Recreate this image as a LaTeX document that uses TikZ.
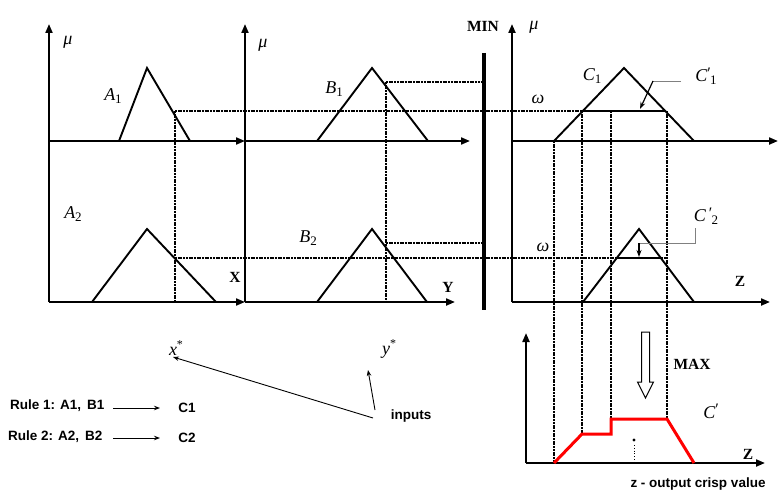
\documentclass[tikz,border=0pt]{standalone}
\usepackage{fontspec}
\setmainfont{Liberation Serif}
\setsansfont{Liberation Sans}
\usetikzlibrary{arrows.meta}
\newcommand\sbx[1]{\raisebox{-0.3ex}{\fontsize{13}{14}\selectfont\upshape #1}}
\newcommand\prm{\raisebox{0.45ex}{\fontsize{16}{17}\selectfont\upshape ′}}
\newcommand\spx[1]{\raisebox{0.75ex}{\fontsize{12}{13}\selectfont\upshape #1}}
\begin{document}
\begin{tikzpicture}[x=1pt,y=-1pt,
  axis/.style={line width=2pt,-{Triangle[length=9pt,width=7pt]}},
  mf/.style={line width=1.9pt,line join=miter},
  guide/.style={line width=1.1pt,dash pattern=on 2pt off 0.7pt},
  thin arrow/.style={line width=0.9pt,-{Stealth[length=6pt,width=4.5pt]}},
  leader/.style={line width=1pt,draw=gray},
  it/.style={font=\fontsize{18}{20}\selectfont\itshape,inner sep=0pt},
  bf/.style={font=\fontsize{15.5}{17}\selectfont\bfseries,inner sep=0pt},
  sf/.style={font=\fontsize{13.5}{16}\selectfont\sffamily\bfseries,inner sep=0pt},
  red curve/.style={line width=3pt,draw=red,line join=miter}]
\useasboundingbox (0,0) rectangle (781,495);

% guides (dotted)
\draw[guide] (175,111) -- (582,111);
\draw[guide] (175,258) -- (667,258);
\draw[guide] (386,82) -- (482,82);
\draw[guide] (386,243) -- (482,243);
\draw[guide] (175,111) -- (175,302);
\draw[guide] (386,82) -- (386,302);
\draw[guide] (554,141) -- (554,463);
\draw[guide] (582,111) -- (582,434);
\draw[guide] (611,111) -- (611,419);
\draw[guide] (667,111) -- (667,419);

% axes
\draw[axis] (49,302) -- (49,24);
\draw[axis] (49,141) -- (245,141);
\draw[axis] (49,302) -- (245,302);
\draw[axis] (245,302) -- (245,24);
\draw[axis] (245,141) -- (470,141);
\draw[axis] (245,302) -- (455,302);
\draw[axis] (512,302) -- (512,24);
\draw[axis] (512,141) -- (778,141);
\draw[axis] (512,302) -- (770,302);
\draw[axis] (526,463) -- (526,333);
\draw[axis] (526,463) -- (765,463);

% membership functions
\draw[mf] (119,141) -- (147,68) -- (190,141);
\draw[mf] (317,141) -- (372,68) -- (428,141);
\draw[mf] (554,141) -- (624,68) -- (694,141);
\draw[mf] (92,302) -- (147,229) -- (216,302);
\draw[mf] (317,302) -- (372,229) -- (427,302);
\draw[mf] (583,302) -- (639,229) -- (694,302);

% clipped tops
\draw[line width=2.8pt] (582,111) -- (666,111);
\draw[line width=2pt] (617,258) -- (661,258);

% MIN bar
\draw[line width=4pt] (484,53) -- (484,310);

% leaders
\draw[leader] (681,81) -- (653,81);
\draw[line width=1.2pt,-{Stealth[length=7pt,width=5pt]}] (653,81) -- (640,109);
\draw[leader] (695,228) -- (695,243) -- (639,243);
\draw[line width=1.2pt,-{Stealth[length=7pt,width=5pt]}] (639,243) -- (639,257);

% result
\draw[red curve] (554,463) -- (582,434) -- (611,434) -- (611,419) -- (667,419) -- (694,463);
\fill (634,440) circle (1.6pt);
\draw[line width=0.8pt,dotted] (634,445) -- (634,462);

% hollow MAX arrow
\draw[line width=1pt,fill=white] (641.5,332) -- (649.5,332) -- (649.5,382) -- (653.5,382) -- (645.5,398) -- (637.5,382) -- (641.5,382) -- cycle;

% labels
\node[it] (mu1) at (68,42) {μ};
\node[it] (mu2) at (263,45) {μ};
\node[it] (mu3) at (534,27) {μ};
\node[it] (la1) at (113,96) {A\sbx{1}};
\node[it] (lb1) at (334,89) {B\sbx{1}};
\node[it] (lc1) at (592,76) {C\sbx{1}};
\node[it] (lc1p) at (706,76) {C\prm\kern-0.04em\sbx{1}};
\node[it] (la2) at (73,214) {A\sbx{2}};
\node[it] (lb2) at (308,238) {B\sbx{2}};
\node[it] (lc2p) at (706,216) {C\,\prm\kern-0.04em\sbx{2}};
\node[it] (om1) at (538,99) {ω};
\node[it] (om2) at (543,247) {ω};
\node[it] (lcp) at (711,411) {C\prm};
\node[bf] (min) at (483,26) {MIN};
\node[bf] (max) at (692,364) {MAX};
\node[bf] (lx) at (235,277) {X};
\node[bf] (ly) at (448,287) {Y};
\node[bf] (lz) at (740,281) {Z};
\node[bf] (lz2) at (748,454) {Z};
\node[it] (xs) at (176,348) {x\spx{*}};
\node[it] (ys) at (389,349) {y\spx{*}};
\node[sf] (inp) at (411,416) {inputs};
\node[sf,anchor=west] (r1) at (10,406) {Rule 1: A1,\, B1};
\node[sf,anchor=west] (r2) at (8,437) {Rule 2: A2,\, B2};
\node[sf] (c1) at (187,408) {C1};
\node[sf] (c2) at (187,438) {C2};
\node[sf] (crisp) at (698,484) {z - output crisp value};

% connectors
\coordinate (r1a) at (113,408); \coordinate (r1b) at (160,408);
\coordinate (r2a) at (113,438); \coordinate (r2b) at (160,438);
\coordinate (ia) at (373,418); \coordinate (ib) at (375,410);
\coordinate (xt) at (173,357); \coordinate (yt) at (368,370);
\draw[thin arrow] (r1a) -- (r1b);
\draw[thin arrow] (r2a) -- (r2b);
\draw[thin arrow] (ia) -- (xt);
\draw[thin arrow] (ib) -- (yt);
\end{tikzpicture}
\end{document}
